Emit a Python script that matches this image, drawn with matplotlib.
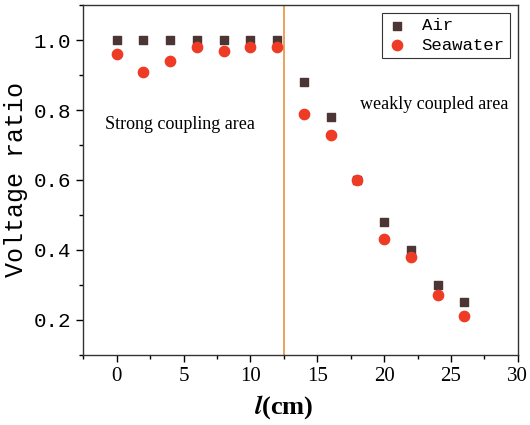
import numpy as np
import matplotlib.pyplot as plt
from matplotlib.ticker import MultipleLocator, FormatStrFormatter

plt.rcParams['mathtext.fontset'] = 'stix'

l_cm = [0, 2, 4, 6, 8, 10, 12, 14, 16, 18, 20, 22, 24, 26]
air = [1.00, 1.00, 1.00, 1.00, 1.00, 1.00, 1.00, 0.88, 0.78, 0.60, 0.48, 0.40, 0.30, 0.25]
seawater = [0.96, 0.91, 0.94, 0.98, 0.97, 0.98, 0.98, 0.79, 0.73, 0.60, 0.43, 0.38, 0.27, 0.21]
boundary = 12.5

fig = plt.figure(figsize=(5.3, 4.25), dpi=100)
ax = fig.add_axes([0.157, 0.165, 0.820, 0.823])

ax.scatter(l_cm, air, marker='s', s=40, color='#4b3535', label='Air', zorder=3)
ax.scatter(l_cm, seawater, marker='o', s=55, color='#ee3b26', label='Seawater', zorder=3)
ax.axvline(boundary, color='#e8872e', lw=1.1, zorder=2)

ax.set_xlim(-2.5, 30)
ax.set_ylim(0.1, 1.1)
ax.xaxis.set_major_locator(MultipleLocator(5))
ax.xaxis.set_minor_locator(MultipleLocator(2.5))
ax.yaxis.set_major_locator(MultipleLocator(0.2))
ax.yaxis.set_minor_locator(MultipleLocator(0.1))
ax.yaxis.set_major_formatter(FormatStrFormatter('%.1f'))
ax.tick_params(which='major', length=5, width=1, direction='out')
ax.tick_params(which='minor', length=3, width=1, direction='out')
for lab in ax.get_xticklabels():
    lab.set_family('Liberation Serif')
    lab.set_fontsize(15)
for lab in ax.get_yticklabels():
    lab.set_family('Liberation Mono')
    lab.set_fontsize(15)
for sp in ax.spines.values():
    sp.set_linewidth(1.0)
    sp.set_color('#333333')

ax.set_ylabel('Voltage ratio', family='Liberation Mono', fontsize=18, labelpad=4)
ax.set_xlabel(r'$\mathbfit{l}$(cm)', family='Liberation Serif', fontweight='bold',
              fontsize=19)
ax.xaxis.set_label_coords(0.462, -0.11)

ax.text(-0.9, 0.76, 'Strong coupling area', family='Liberation Serif', fontsize=13,
        va='center', ha='left')
ax.text(29.3, 0.815, 'weakly coupled area', family='Liberation Serif', fontsize=13,
        va='center', ha='right')

leg = ax.legend(loc='upper right', prop={'family': 'Liberation Mono', 'size': 12.5},
                frameon=True, fancybox=False, edgecolor='black', borderaxespad=0.45,
                handletextpad=0.8, borderpad=0.3, labelspacing=0.25, handlelength=1.2)
leg.get_frame().set_linewidth(0.8)

fig.savefig('out.png', dpi=100)
